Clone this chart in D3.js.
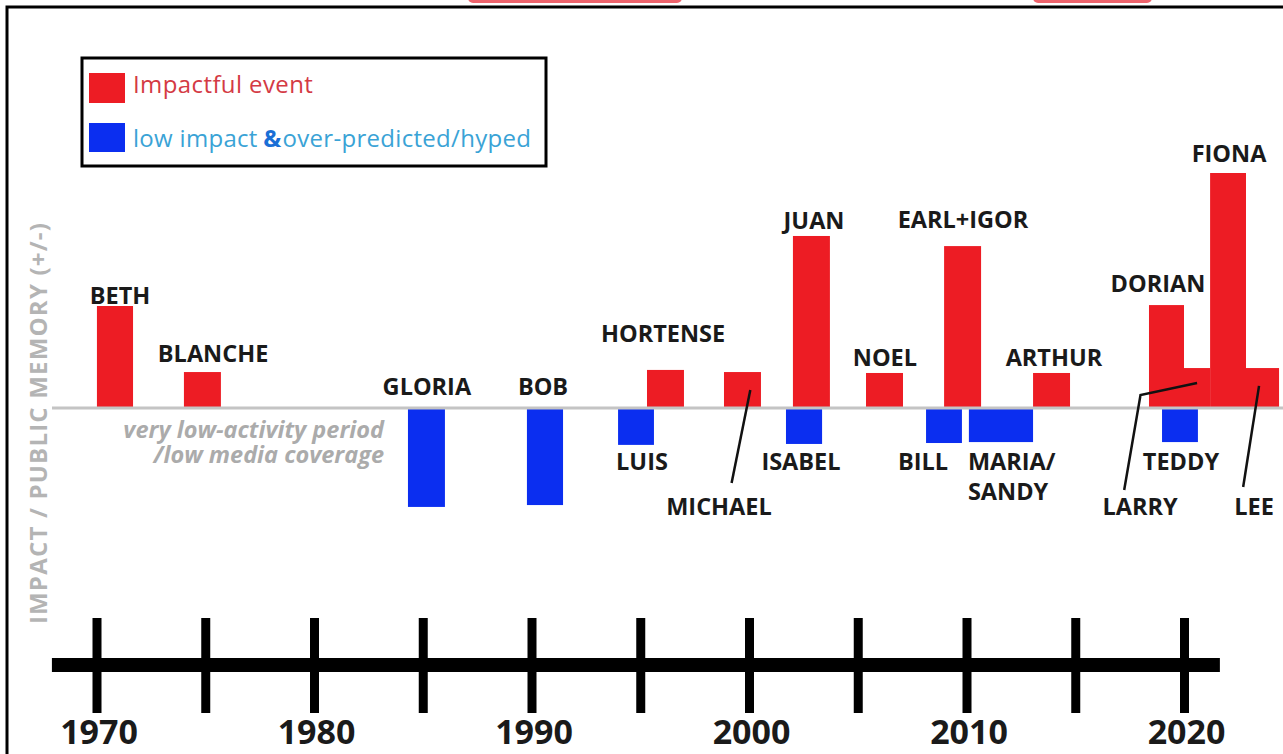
<!DOCTYPE html>
<html>
<head>
<meta charset="utf-8">
<script src="https://cdn.jsdelivr.net/npm/d3@7"></script>
<style>
  body { margin: 0; background: #fff; overflow: hidden; }
  text { font-family: "Open Sans", "Noto Sans", sans-serif; }
</style>
</head>
<body>
<div id="container"></div>
<script>
/* DATA */
const stormNames = ["BETH", "BLANCHE", "GLORIA", "BOB", "LUIS", "HORTENSE", "MICHAEL", "ISABEL", "JUAN",
  "NOEL", "BILL", "EARL+IGOR", "MARIA/SANDY", "ARTHUR", "DORIAN", "TEDDY", "LARRY", "FIONA", "LEE"];
const stormKinds = ["impact", "impact", "low", "low", "low", "impact", "impact", "low", "impact",
  "impact", "low", "impact", "low", "impact", "impact", "low", "impact", "impact", "impact"];
const startYears = [1970.02, 1974.02, 1984.32, 1989.79, 1993.98, 1995.31, 1998.85, 2001.70, 2002.02,
  2005.38, 2008.14, 2008.97, 2010.11, 2013.06, 2018.39, 2018.99, 2020.0, 2021.2, 2022.85];
const endYears = [1971.68, 1975.72, 1986.02, 1991.45, 1995.63, 1997.01, 2000.55, 2003.36, 2003.72,
  2007.08, 2009.79, 2010.67, 2013.06, 2014.76, 2020.0, 2020.64, 2021.2, 2022.85, 2024.37];
const impactValues = [43.4, 15.3, -42.1, -41.3, -15.7, 16.2, 15.3, -15.3, 73.2,
  14.9, -14.9, 68.9, -14.5, 14.9, 43.8, -14.5, 17.0, 100, 17.0];

const tickYears = [1970, 1975, 1980, 1985, 1990, 1995, 2000, 2005, 2010, 2015, 2020];
const yearLabels = ["1970", "1980", "1990", "2000", "2010", "2020"];

const legendLabels = ["Impactful event", "low impact ", "&", "over-predicted/hyped"];
const axisTitle = "IMPACT / PUBLIC MEMORY (+/-)";
const noteLines = ["very low-activity period", "/low media coverage"];

const events = stormNames.map((name, i) => ({
  name, kind: stormKinds[i], start: startYears[i], end: endYears[i], value: impactValues[i]
}));

/* ANNOTATION LAYOUT (data units: year, impact) */
const labelSpots = [
  ["BETH", 1971.08, 44.3], ["BLANCHE", 1975.36, 19.6], ["GLORIA", 1985.19, 5.5], ["BOB", 1990.53, 5.5],
  ["HORTENSE", 1996.05, 28.1], ["LUIS", 1995.08, -26.4], ["MICHAEL", 1998.62, -45.5],
  ["JUAN", 2002.99, 76.2], ["ISABEL", 2002.39, -26.4], ["NOEL", 2006.25, 17.9],
  ["EARL+IGOR", 2009.84, 76.6], ["BILL", 2008.0, -26.4], ["ARTHUR", 2014.02, 17.9],
  ["DORIAN", 2018.8, 49.4], ["FIONA", 2022.07, 104.7], ["TEDDY", 2019.86, -26.4],
  ["LARRY", 2017.98, -45.5], ["LEE", 2023.22, -45.5]
];
const leaders = [
  [[2000.06, 7.7], [1999.2, -31.9]],
  [[2020.6, 10.6], [2018.0, 5.5], [2017.25, -34.9]],
  [[2023.45, 9.4], [2022.72, -33.6]]
];

/* CONSTANTS */
const width = 1283, height = 754;
const red = "#ed1c24", blue = "#0b2ef0";

// SCALES
const xScale = d3.scaleLinear().domain([1970, 2020]).range([96.5, 1184]);
const yScale = d3.scaleLinear().domain([0, 100]).range([408, 173]);

// SVG
const svg = d3.select("#container").append("svg")
  .attr("width", width)
  .attr("height", height);

// cut-off banner pieces at the very top
svg.selectAll("rect.banner")
  .data([[468, 682], [1033, 1152]])
  .join("rect")
  .attr("class", "banner")
  .attr("x", d => d[0]).attr("width", d => d[1] - d[0])
  .attr("y", -10).attr("height", 13).attr("rx", 5)
  .attr("fill", "#e8303c").attr("opacity", 0.75);

// frame
svg.append("path")
  .attr("d", `M7,${height} V7 H${width}`)
  .attr("fill", "none")
  .attr("stroke", "#000")
  .attr("stroke-width", 3);

// LEGEND
const legend = svg.append("g");
legend.append("rect")
  .attr("x", 82).attr("y", 58).attr("width", 464).attr("height", 108)
  .attr("fill", "#fff").attr("stroke", "#000").attr("stroke-width", 3);
legend.append("rect").attr("x", 89).attr("y", 73).attr("width", 36).attr("height", 30).attr("fill", red);
legend.append("rect").attr("x", 89).attr("y", 123).attr("width", 36).attr("height", 29).attr("fill", blue);
legend.append("text")
  .attr("x", 133).attr("y", 93)
  .style("font-size", "24px").style("letter-spacing", "0.4px").attr("fill", "#d43a44")
  .text(legendLabels[0]);
const lt = legend.append("text")
  .attr("x", 133).attr("y", 147)
  .style("font-size", "24px").style("letter-spacing", "0.3px").attr("fill", "#3aa3d6");
lt.append("tspan").text(legendLabels[1]);
lt.append("tspan").attr("dx", -1).attr("fill", "#1a6fd6").style("font-weight", 700).text(legendLabels[2]);
lt.append("tspan").attr("dx", 1).text(legendLabels[3]);

// BARS
svg.selectAll("rect.bar")
  .data(events)
  .join("rect")
  .attr("class", "bar")
  .attr("x", d => xScale(d.start))
  .attr("width", d => xScale(d.end) - xScale(d.start))
  .attr("y", d => yScale(Math.max(0, d.value)))
  .attr("height", d => Math.abs(yScale(d.value) - yScale(0)))
  .attr("fill", d => d.kind === "impact" ? red : blue);

// zero line
svg.append("line")
  .attr("x1", 52).attr("x2", width)
  .attr("y1", yScale(0)).attr("y2", yScale(0))
  .attr("stroke", "#c4c4c4").attr("stroke-width", 3);

// Y AXIS TITLE
svg.append("text")
  .attr("transform", `translate(47, 423) rotate(-90)`)
  .style("text-anchor", "middle")
  .style("font-size", "24px")
  .style("font-weight", 700)
  .style("letter-spacing", "1.2px")
  .attr("fill", "#b4b4b4")
  .text(axisTitle);

// low-activity note
svg.selectAll("text.note")
  .data(noteLines)
  .join("text")
  .attr("class", "note")
  .attr("x", xScale(1983.22))
  .attr("y", (d, i) => yScale(i === 0 ? -12.6 : -23.2))
  .style("text-anchor", "end")
  .style("font-size", "23.5px")
  .style("font-weight", 700)
  .style("font-style", "italic")
  .attr("fill", "#ababab")
  .text(d => d);

// LEADER LINES
const lineGen = d3.line().x(d => xScale(d[0])).y(d => yScale(d[1]));
svg.selectAll("path.leader")
  .data(leaders)
  .join("path")
  .attr("class", "leader")
  .attr("d", lineGen)
  .attr("fill", "none")
  .attr("stroke", "#111")
  .attr("stroke-width", 2.5);

// STORM LABELS
svg.selectAll("text.storm")
  .data(labelSpots)
  .join("text")
  .attr("class", "storm")
  .attr("x", d => xScale(d[1]))
  .attr("y", d => yScale(d[2]))
  .style("text-anchor", "middle")
  .style("font-size", "23.5px")
  .style("font-weight", 700)
  .attr("fill", "#1a1a1a")
  .text(d => d[0]);

// MARIA / SANDY (two lines, left aligned)
const ms = events.find(d => d.name === "MARIA/SANDY");
svg.selectAll("text.ms")
  .data(ms.name.replace("/", "/|").split("|"))
  .join("text")
  .attr("class", "ms")
  .attr("x", xScale(ms.start) - 1)
  .attr("y", (d, i) => yScale(i === 0 ? -26.4 : -39.1))
  .style("font-size", "23.5px")
  .style("font-weight", 700)
  .attr("fill", "#1a1a1a")
  .text(d => d);

// TIMELINE AXIS
const axisY = 665;
svg.append("line")
  .attr("x1", xScale(1967.95)).attr("x2", xScale(2021.65))
  .attr("y1", axisY).attr("y2", axisY)
  .attr("stroke", "#000").attr("stroke-width", 14);

const xAxis = d3.axisBottom(xScale)
  .tickValues(tickYears)
  .tickSize(0)
  .tickFormat(d => yearLabels.includes(String(d)) ? String(d) : "");

const xAxisGroup = svg.append("g")
  .attr("class", "xAxis")
  .attr("transform", `translate(0, ${axisY})`)
  .call(xAxis);

xAxisGroup.select(".domain").remove();
xAxisGroup.selectAll(".tick line")
  .attr("y1", -47).attr("y2", 48)
  .attr("stroke", "#000").attr("stroke-width", 9);
xAxisGroup.selectAll(".tick text")
  .attr("y", 79).attr("dy", 0).attr("dx", 2)
  .attr("fill", "#1a1a1a")
  .style("font-family", "'Open Sans', sans-serif")
  .style("font-size", "34px")
  .style("font-weight", 700);
</script>
</body>
</html>
